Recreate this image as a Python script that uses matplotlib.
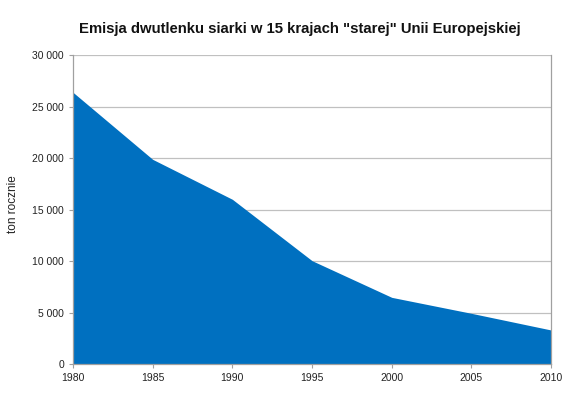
import matplotlib
matplotlib.use("Agg")
import matplotlib.pyplot as plt
from matplotlib.ticker import FuncFormatter

years = [1980, 1985, 1990, 1995, 2000, 2005, 2010]
emissions = [26380, 19870, 15990, 10030, 6470, 4920, 3300]
title = 'Emisja dwutlenku siarki w 15 krajach "starej" Unii Europejskiej'
ylabel = 'ton rocznie'

plt.rcParams['font.family'] = ['Liberation Sans', 'DejaVu Sans']

fig = plt.figure(figsize=(5.7, 4.09), dpi=100)
ax = fig.add_axes([0.128, 0.110, 0.839, 0.7555])

ax.fill_between(years, emissions, 0, color='#0070C0', linewidth=0, zorder=2)
ax.set_xlim(1980, 2010)
ax.set_ylim(0, 30000)
ax.set_xticks(years)
ax.set_yticks(range(0, 30001, 5000))
ax.yaxis.set_major_formatter(FuncFormatter(lambda v, p: f"{int(v):,}".replace(",", " ")))
ax.grid(axis='y', color='#c0c0c0', linewidth=0.9, zorder=1)
ax.set_axisbelow(True)
ax.spines['top'].set_visible(False)
for s in ['left', 'right', 'bottom']:
    ax.spines[s].set_color('#a0a0a0')
    ax.spines[s].set_linewidth(0.9)
ax.tick_params(axis='both', labelsize=7.5, colors='#a0a0a0', labelcolor='#222222', length=3)
fig.text(0.022, 0.5, ylabel, rotation=90, ha='center', va='center', fontsize=8.5, color='#222222')
fig.text(0.526, 0.93, title, ha='center', va='center', fontsize=10.7, fontweight='bold', color='#111111')

fig.savefig('out.png', dpi=100)
